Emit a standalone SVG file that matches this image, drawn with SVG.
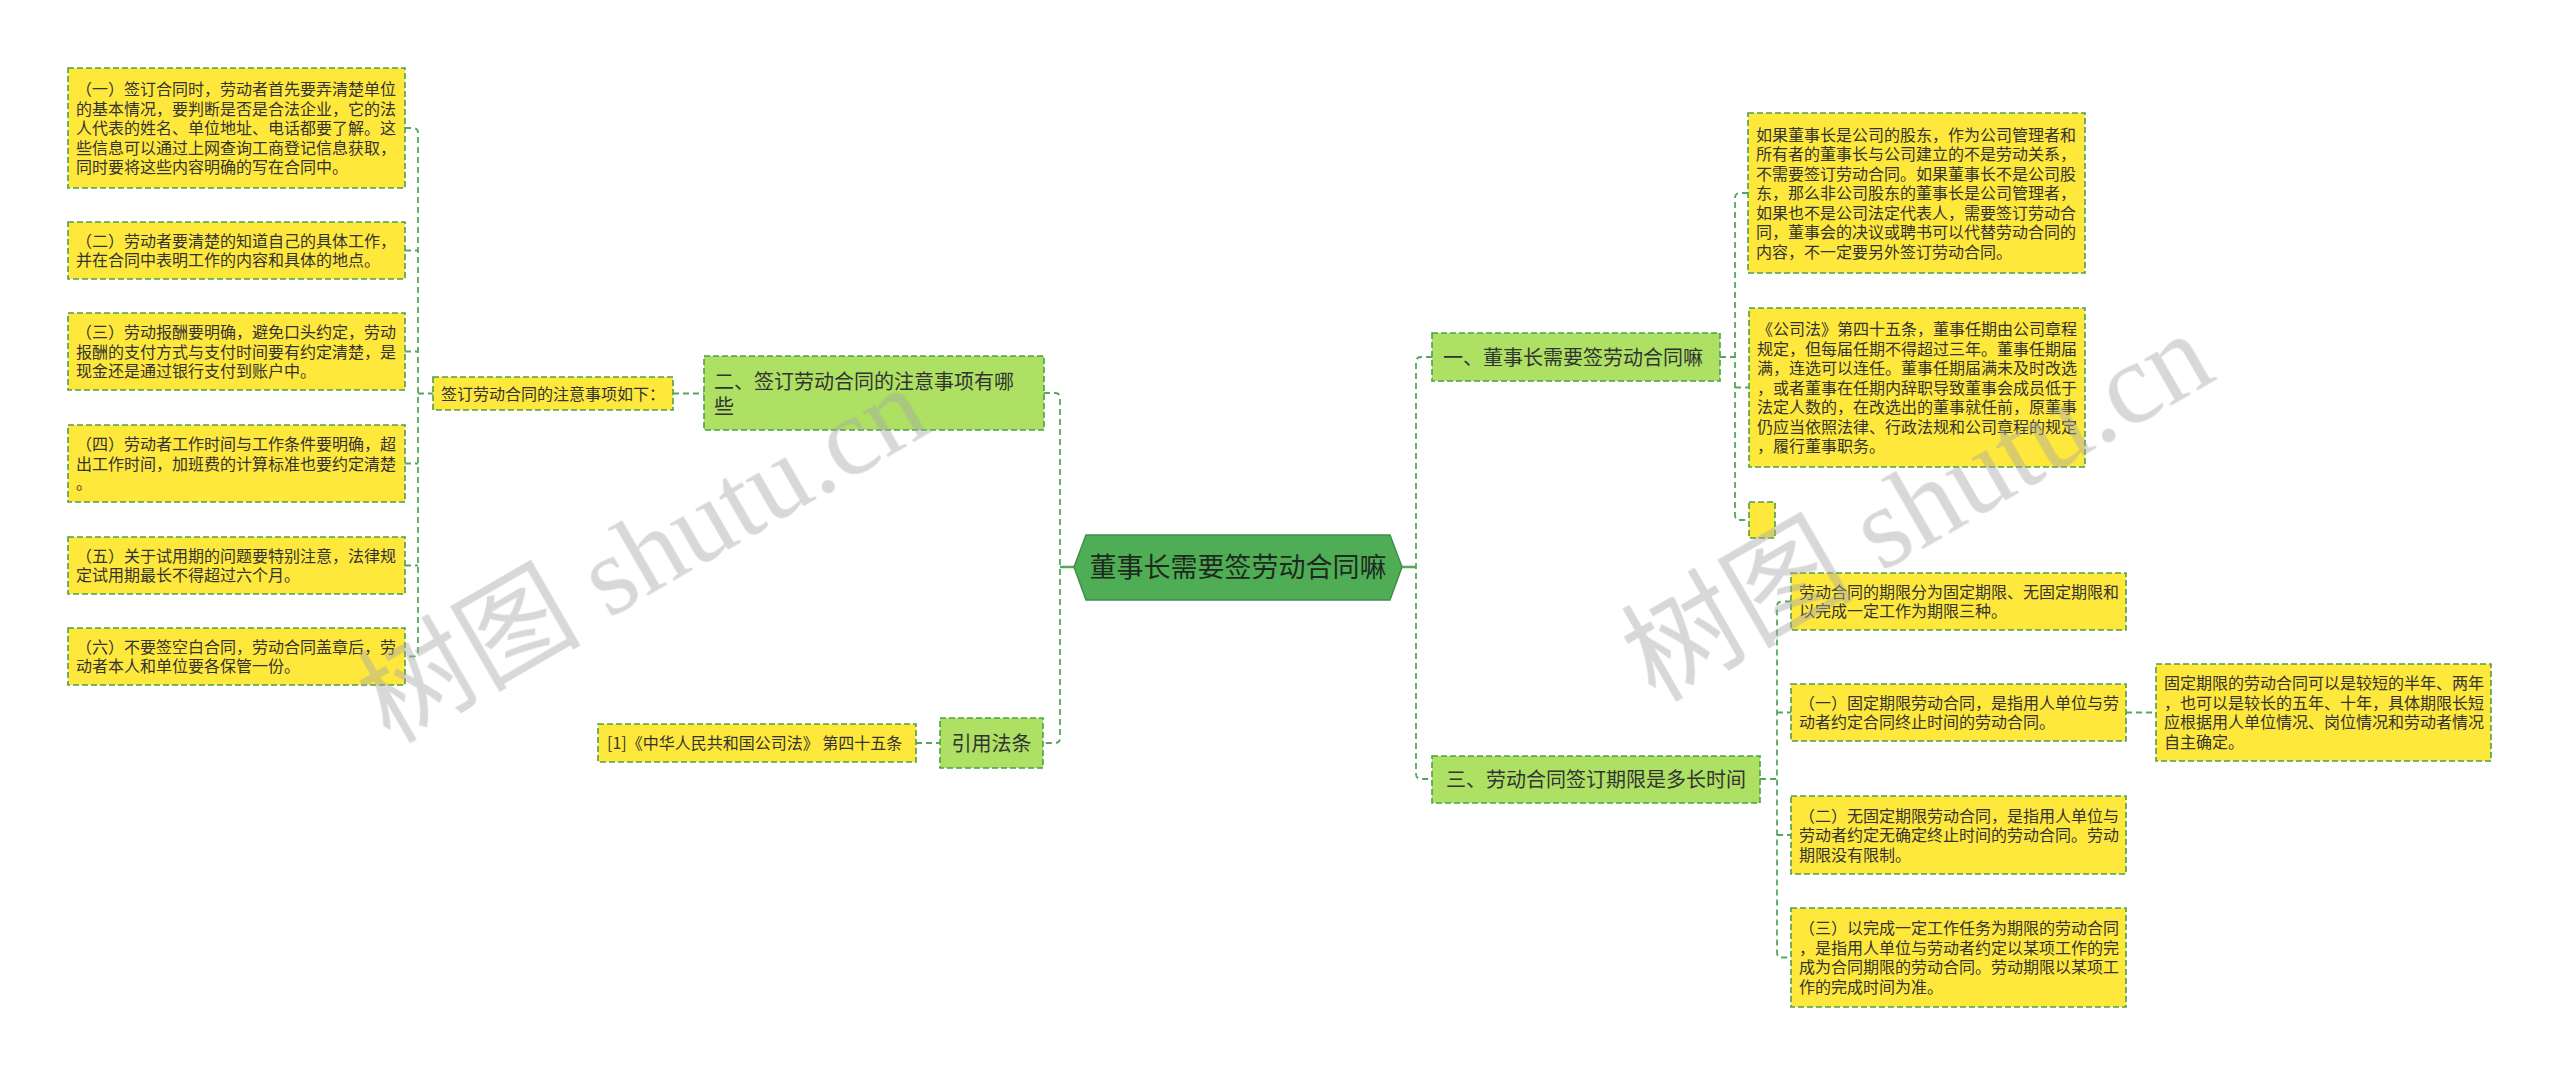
<svg xmlns="http://www.w3.org/2000/svg" width="2560" height="1075" viewBox="0 0 2560 1075">
<style>
.bg{fill:#ffffff}
.y{fill:#FFE83C;stroke:#4E9E4E;stroke-width:1.6;stroke-dasharray:6 3}
.g{fill:#ADE063;stroke:#4E9E4E;stroke-width:1.6;stroke-dasharray:6 3}
.c{fill:#4FAE55;stroke:#3F8F45;stroke-width:1.5}
.t{font-family:"Noto Sans CJK SC","Noto Sans",sans-serif;font-size:16px;fill:#333333}
.tg{font-family:"Noto Sans CJK SC","Noto Sans",sans-serif;font-size:20px;fill:#333333}
.tc{font-family:"Noto Sans CJK SC","Noto Sans",sans-serif;font-size:27px;fill:#1f2a1f}
.conn path{fill:none;stroke:#55A85A;stroke-width:1.8;stroke-dasharray:6 4}
.conn path.solid{stroke-dasharray:none;stroke-width:2.5}
.wm{fill:#a8a8a8;opacity:0.45}
</style>
<rect class="bg" x="0" y="0" width="2560" height="1075"/>
<g class="conn" id="connectors">
<path d="M405,128 H413 Q418,128 418,133 V651.5 Q418,656.5 413,656.5 H405"/>
<path d="M405,250.5 H418"/>
<path d="M405,351.5 H418"/>
<path d="M405,463.5 H418"/>
<path d="M405,565.5 H418"/>
<path d="M418,393.5 H433"/>
<path d="M673,393.5 H704"/>
<path d="M1044,393 H1055 Q1060,393 1060,398 V738 Q1060,743 1055,743 H1043"/>
<path class="solid" d="M1060,567 H1074"/>
<path d="M916,743 H940"/>
<path class="solid" d="M1402,567 H1416"/>
<path d="M1432,357 H1421 Q1416,357 1416,362 V774 Q1416,779 1421,779 H1432"/>
<path d="M1720,357 H1735"/>
<path d="M1748,193 H1740 Q1735,193 1735,198 V515 Q1735,520 1740,520 H1749"/>
<path d="M1735,387.5 H1749"/>
<path d="M1760,779 H1777"/>
<path d="M1791,601.5 H1782 Q1777,601.5 1777,606.5 V952.5 Q1777,957.5 1782,957.5 H1791"/>
<path d="M1777,712.5 H1791"/>
<path d="M1777,835 H1791"/>
<path d="M2126,712.5 H2156"/>
</g>
<g id="center">
<polygon class="c" points="1074,567 1086,535 1390,535 1402,567 1390,600 1086,600"/>
<text class="tc" x="1238" y="577" text-anchor="middle">董事长需要签劳动合同嘛</text>
</g>
<g id="n-er">
<rect class="g" x="704" y="356" width="340" height="74"/>
<text class="tg"><tspan x="714" y="389">二、签订劳动合同的注意事项有哪</tspan><tspan x="714" y="414">些</tspan></text>
</g>
<g id="n-ruxia">
<rect class="y" x="433" y="377" width="240" height="33"/>
<text class="t" x="441" y="399.5">签订劳动合同的注意事项如下：</text>
</g>
<g id="n-l1">
<rect class="y" x="68" y="68" width="337" height="120"/>
<text class="t"><tspan x="76" y="95">（一）签订合同时，劳动者首先要弄清楚单位</tspan><tspan x="76" y="114.5">的基本情况，要判断是否是合法企业，它的法</tspan><tspan x="76" y="134">人代表的姓名、单位地址、电话都要了解。这</tspan><tspan x="76" y="153.5">些信息可以通过上网查询工商登记信息获取，</tspan><tspan x="76" y="173">同时要将这些内容明确的写在合同中。</tspan></text>
</g>
<g id="n-l2">
<rect class="y" x="68" y="222" width="337" height="57"/>
<text class="t"><tspan x="76" y="246.75">（二）劳动者要清楚的知道自己的具体工作，</tspan><tspan x="76" y="266.25">并在合同中表明工作的内容和具体的地点。</tspan></text>
</g>
<g id="n-l3">
<rect class="y" x="68" y="313" width="337" height="77"/>
<text class="t"><tspan x="76" y="338">（三）劳动报酬要明确，避免口头约定，劳动</tspan><tspan x="76" y="357.5">报酬的支付方式与支付时间要有约定清楚，是</tspan><tspan x="76" y="377">现金还是通过银行支付到账户中。</tspan></text>
</g>
<g id="n-l4">
<rect class="y" x="68" y="425" width="337" height="77"/>
<text class="t"><tspan x="76" y="450">（四）劳动者工作时间与工作条件要明确，超</tspan><tspan x="76" y="469.5">出工作时间，加班费的计算标准也要约定清楚</tspan><tspan x="76" y="489">。</tspan></text>
</g>
<g id="n-l5">
<rect class="y" x="68" y="537" width="337" height="57"/>
<text class="t"><tspan x="76" y="561.75">（五）关于试用期的问题要特别注意，法律规</tspan><tspan x="76" y="581.25">定试用期最长不得超过六个月。</tspan></text>
</g>
<g id="n-l6">
<rect class="y" x="68" y="628" width="337" height="57"/>
<text class="t"><tspan x="76" y="652.75">（六）不要签空白合同，劳动合同盖章后，劳</tspan><tspan x="76" y="672.25">动者本人和单位要各保管一份。</tspan></text>
</g>
<g id="n-yinyong">
<rect class="g" x="940" y="718" width="103" height="50"/>
<text class="tg" x="991.5" y="750.5" text-anchor="middle">引用法条</text>
</g>
<g id="n-ref">
<rect class="y" x="598" y="724" width="318" height="38"/>
<text class="t" x="607" y="749">[1]《中华人民共和国公司法》 第四十五条</text>
</g>
<g id="n-yi">
<rect class="g" x="1432" y="333" width="288" height="48"/>
<text class="tg" x="1443" y="364.5">一、董事长需要签劳动合同嘛</text>
</g>
<g id="n-r1">
<rect class="y" x="1748" y="113" width="337" height="160"/>
<text class="t"><tspan x="1756" y="140.5">如果董事长是公司的股东，作为公司管理者和</tspan><tspan x="1756" y="160">所有者的董事长与公司建立的不是劳动关系，</tspan><tspan x="1756" y="179.5">不需要签订劳动合同。如果董事长不是公司股</tspan><tspan x="1756" y="199">东，那么非公司股东的董事长是公司管理者，</tspan><tspan x="1756" y="218.5">如果也不是公司法定代表人，需要签订劳动合</tspan><tspan x="1756" y="238">同，董事会的决议或聘书可以代替劳动合同的</tspan><tspan x="1756" y="257.5">内容，不一定要另外签订劳动合同。</tspan></text>
</g>
<g id="n-r2">
<rect class="y" x="1749" y="308" width="336" height="159"/>
<text class="t"><tspan x="1757" y="335">《公司法》第四十五条，董事任期由公司章程</tspan><tspan x="1757" y="354.5">规定，但每届任期不得超过三年。董事任期届</tspan><tspan x="1757" y="374">满，连选可以连任。董事任期届满未及时改选</tspan><tspan x="1757" y="393.5">，或者董事在任期内辞职导致董事会成员低于</tspan><tspan x="1757" y="413">法定人数的，在改选出的董事就任前，原董事</tspan><tspan x="1757" y="432.5">仍应当依照法律、行政法规和公司章程的规定</tspan><tspan x="1757" y="452">，履行董事职务。</tspan></text>
</g>
<g id="n-r3">
<rect class="y" x="1749" y="502" width="26" height="36"/>
</g>
<g id="n-san">
<rect class="g" x="1432" y="756" width="328" height="47"/>
<text class="tg" x="1446" y="786.5">三、劳动合同签订期限是多长时间</text>
</g>
<g id="n-s0">
<rect class="y" x="1791" y="573" width="335" height="57"/>
<text class="t"><tspan x="1799" y="597.75">劳动合同的期限分为固定期限、无固定期限和</tspan><tspan x="1799" y="617.25">以完成一定工作为期限三种。</tspan></text>
</g>
<g id="n-s1">
<rect class="y" x="1791" y="684" width="335" height="57"/>
<text class="t"><tspan x="1799" y="708.75">（一）固定期限劳动合同，是指用人单位与劳</tspan><tspan x="1799" y="728.25">动者约定合同终止时间的劳动合同。</tspan></text>
</g>
<g id="n-s1a">
<rect class="y" x="2156" y="664" width="335" height="97"/>
<text class="t"><tspan x="2164" y="689.25">固定期限的劳动合同可以是较短的半年、两年</tspan><tspan x="2164" y="708.75">，也可以是较长的五年、十年，具体期限长短</tspan><tspan x="2164" y="728.25">应根据用人单位情况、岗位情况和劳动者情况</tspan><tspan x="2164" y="747.75">自主确定。</tspan></text>
</g>
<g id="n-s2">
<rect class="y" x="1791" y="796" width="335" height="78"/>
<text class="t"><tspan x="1799" y="821.5">（二）无固定期限劳动合同，是指用人单位与</tspan><tspan x="1799" y="841">劳动者约定无确定终止时间的劳动合同。劳动</tspan><tspan x="1799" y="860.5">期限没有限制。</tspan></text>
</g>
<g id="n-s3">
<rect class="y" x="1791" y="908" width="335" height="99"/>
<text class="t"><tspan x="1799" y="934.25">（三）以完成一定工作任务为期限的劳动合同</tspan><tspan x="1799" y="953.75">，是指用人单位与劳动者约定以某项工作的完</tspan><tspan x="1799" y="973.25">成为合同期限的劳动合同。劳动期限以某项工</tspan><tspan x="1799" y="992.75">作的完成时间为准。</tspan></text>
</g>
<g id="watermark" class="wm">
<text transform="translate(390,745) rotate(-30)" font-size="112"><tspan font-family="Noto Sans CJK SC,sans-serif">树图</tspan><tspan font-family="Liberation Serif,serif"> shutu.cn</tspan></text>
<text transform="translate(1655,703) rotate(-30)" font-size="116"><tspan font-family="Noto Sans CJK SC,sans-serif">树图</tspan><tspan font-family="Liberation Serif,serif"> shutu.cn</tspan></text>
</g>
</svg>
